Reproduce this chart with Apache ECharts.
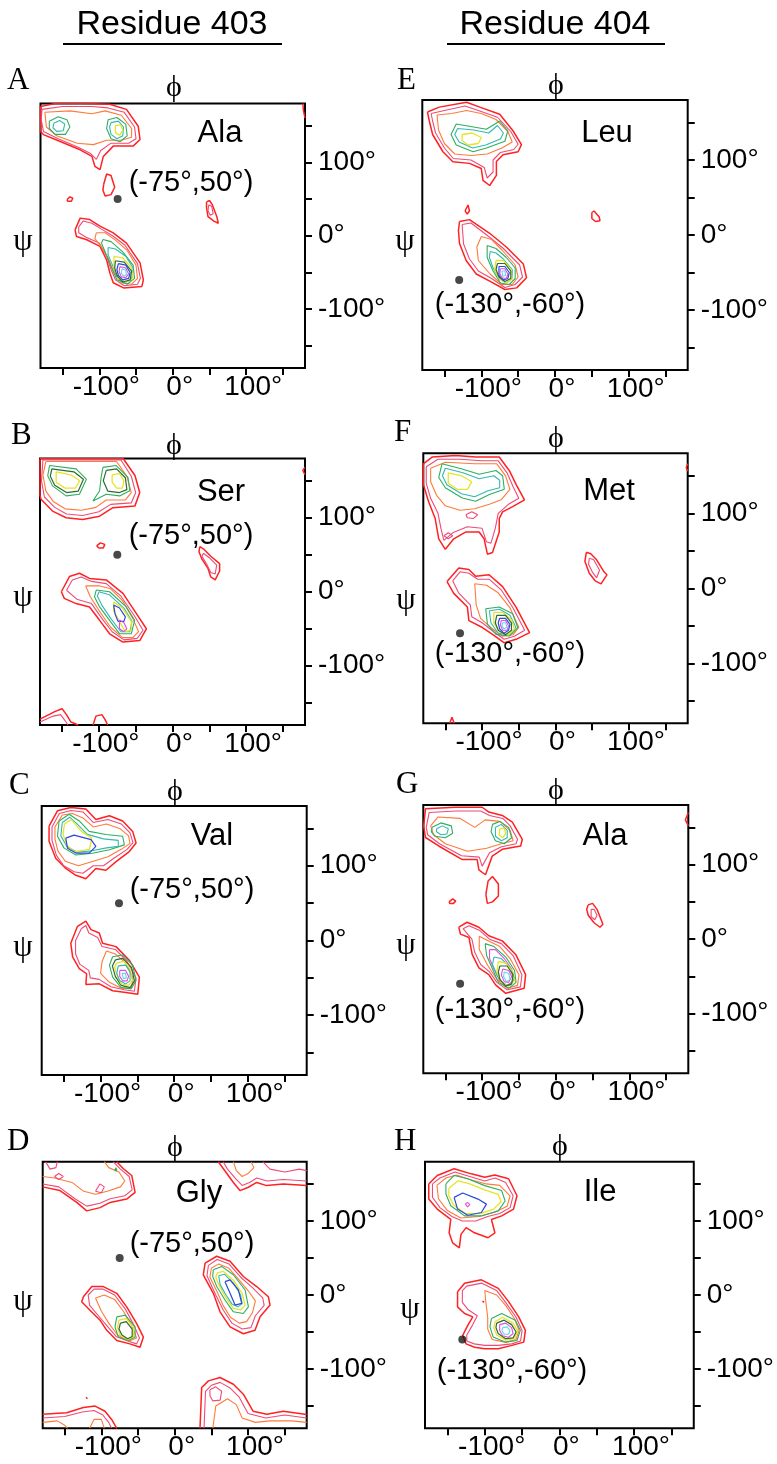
<!DOCTYPE html>
<html><head><meta charset="utf-8">
<script src="https://cdn.jsdelivr.net/npm/echarts@6/dist/echarts.min.js"></script>
<style>html,body{margin:0;padding:0;background:#fff}#c{width:777px;height:1464px}</style>
</head><body><div id="c"></div>
<script>
// ---------- DATA ----------
const columnTitles = ['Residue 403', 'Residue 404'];
const panelLetters = ['A','B','C','D','E','F','G','H'];
const residueNames = ['Ala','Ser','Val','Gly','Leu','Met','Ala','Ile'];
const tickValues = [-150,-100,-50,0,50,100,150];
const labelValues = [-100,0,100];
const refPointLeft = [-75, 50];
const refPointRight = [-130, -60];
const refLabelLeft = '(-75°,50°)';
const refLabelRight = '(-130°,-60°)';

// contour loops: [level, [[phi,psi],...], open?]
const contoursA = [
 [0,[[-180,176],[-160,180],[-120,180],[-86,179],[-63,172],[-47,149],[-44.5,131],[-54,122],[-81,122],[-94.5,108],[-99,90],[-106,94.5],[-110,108],[-126,117],[-154,128.6],[-176,137.7],[-180,142]]],
 [1,[[-178,172],[-150,176],[-110,176],[-88,174],[-66,168],[-52,148],[-50,132],[-60,126],[-84,126],[-98,116],[-104,104],[-112,112],[-128,120],[-156,132],[-176,142],[-179,158]]],
 [2,[[-174,168],[-140,170],[-110,166],[-92,170],[-70,164],[-56,146],[-56,134],[-70,130],[-90,130],[-108,124],[-130,126],[-158,136],[-172,148]]],
 [3,[[-168,156],[-156,162],[-144,158],[-140,148],[-146,138],[-160,138],[-168,146]]],
 [4,[[-162,153],[-154,157],[-147,152],[-149,143],[-158,142],[-163,147]]],
 [3,[[-88,158],[-76,161],[-64,152],[-62,136],[-72,128],[-84,132],[-90,146]]],
 [4,[[-84,154],[-74,156],[-67,148],[-68,136],[-76,132],[-84,138],[-86,148]]],
 [5,[[-78,150],[-71,151],[-68,144],[-72,137],[-78,140]]],
 [0,[[-94,70],[-90,84],[-84,82],[-79,66],[-84,56],[-92,54],[-95,62]]],
 [0,[[-144,49],[-140,53],[-136,51],[-138,47],[-143,47]]],
 [0,[[46,46],[50,48],[54,42],[60,26],[62,17],[56,20],[48,26],[46,38]]],
 [1,[[49,42],[53,40],[55,30],[51,28],[48,34]]],
 [0,[[177,180],[178,170],[180,160]],1],
 [0,[[-133,8],[-126,24],[-113,22],[-99,13],[-81,4],[-63,-10],[-44.5,-37],[-40,-60],[-42,-69],[-67,-71],[-81,-64],[-85.5,-51],[-90,-33],[-99,-14.5],[-117,-5.5],[-131,-1]]],
 [1,[[-128,12],[-122,20],[-110,17],[-97,9],[-82,0],[-65,-13],[-48,-38],[-44,-58],[-48,-66],[-66,-68],[-78,-60],[-84,-46],[-90,-28],[-100,-10],[-118,-2],[-128,4]]],
 [2,[[-104,4],[-92,4],[-78,-6],[-62,-20],[-50,-40],[-48,-58],[-56,-66],[-70,-64],[-80,-50],[-88,-30],[-98,-14],[-106,-4]]],
 [3,[[-95,-5],[-84,-8],[-68,-22],[-54,-40],[-52,-58],[-62,-66],[-76,-60],[-84,-42],[-92,-22],[-97,-10]]],
 [4,[[-88,-16],[-78,-18],[-64,-28],[-54,-44],[-56,-60],[-66,-64],[-76,-56],[-82,-40],[-88,-26]]],
 [5,[[-80,-28],[-68,-30],[-56,-44],[-54,-58],[-64,-63],[-74,-58],[-80,-44]]],
 [6,[[-78,-34],[-66,-36],[-56,-48],[-58,-60],[-68,-63],[-76,-54],[-79,-44]]],
 [7,[[-74,-38],[-64,-40],[-58,-50],[-60,-58],[-68,-60],[-74,-54],[-76,-46]]],
 [8,[[-72,-42],[-64,-44],[-60,-52],[-64,-57],[-70,-56],[-73,-49]]],
 [9,[[-69,-45],[-64,-47],[-63,-53],[-67,-55],[-70,-51]]]
];
const contoursB = [
 [0,[[-180,180],[-67,180],[-51,157],[-44.5,134],[-51,116],[-81,113.6],[-99,102],[-122,97.7],[-144.5,100],[-163,109],[-178.6,125],[-180,130]]],
 [1,[[-176,178],[-70,178],[-56,156],[-50,134],[-56,120],[-84,118],[-100,108],[-122,103],[-144,105],[-160,114],[-174,128],[-178,150]]],
 [2,[[-172,176],[-120,176],[-76,176],[-62,156],[-56,134],[-64,124],[-90,124],[-104,114],[-124,110],[-146,112],[-162,122],[-172,136],[-176,158]]],
 [3,[[-167,170.5],[-131,166],[-117,152],[-126.4,131.8],[-144.5,129.5],[-163,143],[-169.5,156.8]]],
 [6,[[-164,166],[-134,162],[-121,152],[-128,136],[-144,134],[-160,144],[-166,156]]],
 [5,[[-158,162],[-138,158],[-126,150],[-132,140],[-146,140],[-158,148]]],
 [3,[[-94.5,168],[-76.4,170.5],[-60.5,154.5],[-58,136.4],[-71.8,129.5],[-90,131.8],[-108,122.7],[-99,136.4],[-97,154.5]]],
 [6,[[-90,164],[-76,166],[-64,154],[-62,138],[-72,134],[-88,136],[-94,150]]],
 [5,[[-82,158],[-72,160],[-66,150],[-68,140],[-76,140],[-82,148]]],
 [0,[[-151,0],[-140,20.5],[-126.4,25],[-112.7,18],[-90,16],[-67.3,-2.3],[-49,-29.5],[-35.5,-50],[-44.5,-66],[-67.3,-68],[-85.5,-56.8],[-99,-38.6],[-112.7,-20.5],[-131,-16],[-147,-9]]],
 [1,[[-144,2],[-136,16],[-124,20],[-110,14],[-90,11],[-70,-6],[-52,-32],[-40,-52],[-48,-63],[-66,-65],[-82,-54],[-96,-36],[-110,-16],[-130,-10]]],
 [2,[[-118,8],[-100,8],[-84,4],[-68,-12],[-54,-36],[-46,-54],[-54,-62],[-68,-62],[-84,-48],[-98,-28],[-112,-6]]],
 [3,[[-103.6,2.3],[-85.5,0],[-62.7,-20.5],[-51.4,-38.6],[-56,-56.8],[-71.8,-56.8],[-85.5,-38.6],[-99,-20.5],[-106,-6.8]]],
 [4,[[-100,0],[-86,-4],[-66,-22],[-55,-40],[-58,-54],[-70,-54],[-84,-36],[-96,-18],[-102,-6]]],
 [5,[[-80,-14],[-68,-22],[-56,-40],[-56,-52],[-64,-54],[-72,-40],[-80,-26]]],
 [7,[[-80,-18],[-72,-22],[-64,-34],[-66,-40],[-74,-40],[-78,-30]]],
 [8,[[-72,-38],[-66,-42],[-62,-50],[-66,-54],[-72,-50]]],
 [0,[[-103,62],[-98,66],[-92,64],[-94,59],[-100,59]]],
 [0,[[37,61],[42,58],[52,48],[64,38],[64,28],[58,16],[52,20],[48,32],[40,44],[36,54]]],
 [1,[[42,52],[50,46],[60,36],[58,24],[52,26],[46,38],[40,48]]],
 [0,[[-180,-172],[-160,-162],[-150,-158],[-144,-166],[-138,-176],[-128,-180]],1],
 [1,[[-180,-176],[-162,-168],[-152,-166],[-146,-174],[-142,-180]],1],
 [0,[[-108,-180],[-104,-168],[-96,-166],[-92,-172],[-88,-180]],1],
 [0,[[180,168],[177,164],[180,158]],1]
];
const contoursC = [
 [0,[[-170,153],[-158.6,173.6],[-140.5,178],[-120,176],[-106.4,162],[-88,167],[-70,160],[-56.4,146],[-51.8,130.5],[-61,119],[-79,105.5],[-92.7,94],[-106.4,96.4],[-120,82.7],[-133.6,87.3],[-147.3,96.4],[-161,110],[-170,132.7]]],
 [1,[[-166,152],[-156,170],[-140,174],[-124,172],[-110,158],[-90,162],[-72,156],[-60,144],[-56,131],[-64,122],[-82,110],[-96,100],[-110,100],[-124,90],[-136,92],[-150,100],[-160,114],[-166,134]]],
 [2,[[-162,152],[-152,168],[-138,170],[-124,164],[-110,152],[-92,156],[-74,150],[-62,140],[-60,130],[-72,122],[-90,112],[-110,106],[-130,100],[-148,106],[-158,120],[-162,136]]],
 [3,[[-156.4,160],[-142.7,169],[-129,160],[-115.5,146],[-92.7,141.8],[-70,139.5],[-67.7,128],[-88,121.4],[-111,116.8],[-133.6,114.5],[-149.5,123.6],[-158.6,139.5]]],
 [4,[[-152,158],[-142,165],[-132,156],[-118,142],[-96,136],[-76,134],[-76,126],[-92,124],[-112,120],[-132,118],[-146,126],[-154,140]]],
 [5,[[-149,156],[-140,162],[-126,146],[-112,137],[-115,122],[-136,119],[-146,128],[-151,142]]],
 [7,[[-147.3,137],[-136,141],[-113,135],[-106.4,126],[-115.5,117],[-133.6,117],[-145,123.6]]],
 [0,[[-131.4,19],[-120,26],[-113,14.5],[-101.8,10],[-97.3,-3.6],[-79,-8.2],[-61,-26.4],[-47.3,-49],[-49.5,-71.8],[-65.5,-69.5],[-83.6,-67.3],[-101.8,-58],[-120,-59],[-119,-44.5],[-129,-37.7],[-138,-21.8],[-140.5,-3.6]]],
 [1,[[-126,16],[-120,20],[-116,10],[-104,4],[-98,-8],[-80,-12],[-64,-28],[-52,-50],[-54,-68],[-68,-66],[-86,-62],[-102,-52],[-114,-50],[-116,-40],[-128,-32],[-134,-18],[-134,0]]],
 [2,[[-92,-14],[-80,-18],[-66,-30],[-56,-50],[-58,-64],[-72,-64],[-88,-56],[-100,-44],[-98,-28]]],
 [3,[[-83.6,-21.8],[-70,-19.5],[-56.4,-33],[-51.8,-53.6],[-58.6,-65],[-72.3,-62.7],[-83.6,-49],[-88,-33]]],
 [6,[[-80,-26],[-70,-24],[-58,-36],[-54,-54],[-60,-63],[-72,-60],[-80,-48],[-84,-34]]],
 [5,[[-78,-30],[-68,-28],[-60,-38],[-57,-54],[-62,-60],[-72,-58],[-78,-46],[-81,-36]]],
 [4,[[-76,-34],[-66,-33],[-60,-42],[-60,-54],[-66,-58],[-74,-54],[-78,-44]]],
 [8,[[-74,-40],[-66,-40],[-62,-48],[-64,-54],[-70,-54],[-74,-48]]],
 [9,[[-71,-44],[-66,-44],[-65,-50],[-69,-51]]]
];
const contoursD = [
 [0,[[-180,146],[-156.4,141],[-133.6,125],[-120,113.6],[-101.8,118],[-88,125],[-65.5,129.5],[-54,138.6],[-58.6,161.4],[-70,170.5],[-79,180]],1],
 [1,[[-180,150],[-158,146],[-136,130],[-120,120],[-102,124],[-88,130],[-68,134],[-58,142],[-62,160],[-74,170],[-84,180]],1],
 [2,[[-180,160],[-164,158],[-140,152],[-124,140],[-108,136],[-92,140],[-74,146],[-68,154],[-76,166],[-90,172],[-96,180]],1],
 [1,[[-164,160],[-158,164],[-152,160],[-158,156]]],
 [1,[[-108,140],[-102,150],[-96,146],[-100,138]]],
 [1,[[-176,180],[-170,170],[-162,172],[-160,180]],1],
 [3,[[-82,168],[-80,172],[-79,168]]],
 [0,[[59.5,180],[66.4,170.5],[80,152],[89,141],[100.5,145.5],[111.8,152],[125.5,147.7],[148,150],[180,147.7]],1],
 [1,[[66,180],[72,170],[84,156],[92,148],[102,152],[112,158],[126,154],[148,156],[180,154]],1],
 [2,[[80,180],[84,168],[92,160],[100,164],[108,172],[104,180]],1],
 [1,[[120,180],[130,170],[150,166],[170,170],[180,168]],1],
 [0,[[-124.5,-2.3],[-113,11.4],[-97.3,11.4],[-79,2.3],[-65.5,-16],[-51.8,-38.6],[-42.7,-56.8],[-47.3,-70.5],[-61,-66],[-79,-61.4],[-92.7,-47.7],[-101.8,-34],[-115.5,-20.5],[-126.8,-9]]],
 [1,[[-118,0],[-110,8],[-98,8],[-82,0],[-68,-18],[-56,-40],[-48,-58],[-52,-66],[-64,-62],[-80,-56],[-92,-42],[-104,-28],[-116,-14]]],
 [2,[[-108,-4],[-96,0],[-82,-6],[-70,-22],[-58,-42],[-52,-58],[-62,-62],[-78,-54],[-90,-38],[-100,-22]]],
 [3,[[-79,-29.5],[-67.7,-27.3],[-54,-43],[-54,-56.8],[-63.2,-61.4],[-76.8,-56.8],[-81.4,-43]]],
 [5,[[-76,-34],[-66,-32],[-56,-44],[-56,-56],[-64,-60],[-74,-55],[-78,-44]]],
 [6,[[-74,-38],[-66,-36],[-58,-46],[-58,-56],[-64,-59],[-72,-54],[-76,-46]]],
 [0,[[41.4,43],[57.3,52.3],[75.5,45.5],[93.6,25],[111.8,11.4],[127.7,-2.3],[130,-13.6],[116.4,-29.5],[109.5,-47.7],[93.6,-52.3],[75.5,-43],[61.8,-22.7],[52.7,2.3],[39,27.3]]],
 [1,[[46,40],[58,48],[74,42],[90,24],[106,10],[120,-4],[122,-14],[110,-28],[104,-44],[92,-46],[78,-38],[66,-20],[56,0],[44,26]]],
 [2,[[50,36],[60,42],[74,36],[88,20],[100,6],[110,-8],[106,-24],[98,-36],[88,-38],[76,-30],[66,-14],[58,4],[48,24]]],
 [3,[[52.7,34],[64,38.6],[80,27.3],[96,6.8],[100.5,-16],[93.6,-25],[80,-22.7],[68.6,-6.8],[57.3,11.4],[51.8,25]]],
 [5,[[58,30],[66,32],[80,20],[92,2],[96,-14],[90,-20],[80,-18],[70,-4],[60,14],[56,24]]],
 [4,[[60,26],[68,28],[80,16],[90,0],[92,-12],[86,-16],[78,-12],[70,0],[62,14]]],
 [7,[[68.6,18],[75.5,20.5],[86.8,6.8],[91.4,-11.4],[82.3,-13.6],[75.5,2.3]]],
 [0,[[-180,-161],[-147.3,-159],[-124.5,-152],[-108.6,-150],[-95,-157],[-86,-168],[-79,-180]],1],
 [1,[[-180,-166],[-150,-164],[-126,-158],[-110,-156],[-98,-162],[-90,-172],[-86,-180]],1],
 [2,[[-180,-172],[-160,-170],[-150,-176],[-146,-180]],1],
 [2,[[-116,-180],[-110,-168],[-100,-168],[-96,-180]],1],
 [0,[[-121,-138],[-119,-137],[-119,-140],[-121,-140]]],
 [0,[[34.5,-180],[36.8,-125],[46,-116],[61.8,-111.4],[80,-120.5],[93.6,-134],[107,-157],[125.5,-161],[148,-157],[180,-161.4]],1],
 [1,[[40,-180],[42,-130],[50,-122],[62,-118],[76,-126],[88,-138],[100,-160],[124,-166],[150,-162],[180,-166]],1],
 [2,[[52,-180],[56,-150],[72,-140],[84,-148],[92,-166],[110,-172],[130,-170],[160,-170],[180,-172]],1],
 [1,[[48,-128],[56,-124],[64,-130],[62,-142],[52,-143],[48,-136]]]
];
const contoursE = [
 [0,[[-173,164],[-157,170.5],[-120,177],[-102,170.5],[-75,161],[-57,139],[-45.5,120.5],[-50,111],[-70.5,107],[-79.5,98],[-79.5,79.5],[-88.6,66],[-97.7,72.7],[-100,88.6],[-116,95.5],[-138.6,97.7],[-152,111],[-166,134],[-170.5,152]]],
 [1,[[-168,162],[-150,166],[-122,172],[-104,166],[-78,157],[-60,138],[-50,121],[-56,114],[-74,110],[-84,100],[-84,84],[-92,76],[-96,90],[-114,100],[-138,102],[-150,116],[-162,136],[-166,152]]],
 [2,[[-160,160],[-140,162],[-120,166],[-100,162],[-80,154],[-64,138],[-58,124],[-72,116],[-92,108],[-114,106],[-136,108],[-150,122],[-158,140]]],
 [3,[[-134,148],[-93,141],[-75,152],[-64,139],[-68,125],[-93,116],[-111,111],[-134,120],[-141,134]]],
 [4,[[-132,142],[-110,140],[-90,136],[-78,146],[-70,136],[-74,128],[-94,120],[-112,116],[-130,124],[-136,134]]],
 [5,[[-126,134],[-112,136],[-100,130],[-104,122],[-118,120],[-126,126]]],
 [0,[[-129.5,18],[-116,20.5],[-88.6,2.3],[-66,-16],[-43,-38.6],[-38.6,-57],[-52,-70.5],[-68,-72.7],[-88.6,-61.4],[-106.8,-52],[-120.5,-34],[-129.5,-11.4],[-131,6]]],
 [0,[[-122,32],[-118,40],[-116,32],[-119,28]]],
 [1,[[-126,14],[-114,16],[-90,-2],[-70,-18],[-48,-40],[-44,-56],[-54,-66],[-68,-70],[-86,-58],[-104,-48],[-116,-32],[-124,-12]]],
 [2,[[-100,-2],[-86,-6],[-72,-20],[-54,-40],[-50,-56],[-58,-66],[-72,-66],[-88,-52],[-104,-34],[-106,-16]]],
 [3,[[-92,-14],[-80,-18],[-66,-30],[-54,-44],[-54,-58],[-62,-66],[-74,-64],[-84,-48],[-92,-30]]],
 [4,[[-88,-22],[-80,-24],[-70,-32],[-58,-46],[-58,-58],[-66,-64],[-76,-58],[-84,-44],[-89,-30]]],
 [5,[[-80,-34],[-70,-34],[-60,-46],[-58,-58],[-66,-64],[-76,-58],[-82,-46]]],
 [6,[[-78,-38],[-68,-38],[-60,-48],[-60,-58],[-68,-62],[-76,-56],[-80,-46]]],
 [7,[[-76,-42],[-68,-42],[-62,-50],[-64,-58],[-70,-60],[-76,-54]]],
 [8,[[-74,-45],[-68,-45],[-64,-52],[-66,-58],[-72,-57],[-75,-51]]],
 [9,[[-72,-48],[-68,-48],[-67,-54],[-71,-55]]],
 [0,[[50,30],[53,32],[60,24],[61,19],[55,18],[50,22]]]
];
const contoursF = [
 [0,[[-180,166],[-168,175],[-136,177],[-108.7,175],[-76.6,175],[-62.8,156.8],[-53.7,138.6],[-42.2,118],[-58.3,109],[-72,102],[-76.6,93],[-76.6,75],[-85.8,47.7],[-92.7,45.5],[-97.2,66],[-104,75],[-122.5,75],[-138.5,66],[-150,52],[-159,66],[-163.8,93],[-173,116],[-180,138.6]]],
 [1,[[-176,162],[-160,172],[-130,172],[-100,170],[-78,170],[-66,154],[-58,136],[-50,120],[-64,112],[-78,100],[-82,80],[-88,60],[-94,62],[-100,80],[-120,82],[-140,74],[-152,64],[-156,80],[-160,100],[-170,120],[-176,140]]],
 [2,[[-170,160],[-150,168],[-110,166],[-80,166],[-68,150],[-62,132],[-74,118],[-90,112],[-110,106],[-130,104],[-150,110],[-162,124],[-170,142]]],
 [1,[[-122,98],[-114,102],[-106,98],[-112,93],[-120,94]]],
 [1,[[-152,70],[-146,74],[-140,70],[-146,66]]],
 [3,[[-154.6,166],[-127,159],[-104,152],[-81,157],[-72,150],[-69.7,132],[-90,125],[-108.7,116],[-127,120.5],[-150,134],[-159,147.7]]],
 [4,[[-150,160],[-126,154],[-104,146],[-84,150],[-76,144],[-76,134],[-92,130],[-110,122],[-128,126],[-148,138],[-154,150]]],
 [5,[[-146,154],[-128,150],[-114,142],[-120,132],[-134,132],[-146,140]]],
 [0,[[-147.7,9],[-131.7,27],[-117.9,25],[-108.7,16],[-90.4,18],[-72,2.3],[-53.7,-25],[-35.3,-59],[-53.7,-68],[-69.7,-72.7],[-85.8,-61.4],[-99.5,-52.3],[-117.9,-43],[-120,-25],[-138.5,-6.8]]],
 [1,[[-140,10],[-130,22],[-118,20],[-106,12],[-90,12],[-74,-2],[-58,-26],[-42,-56],[-56,-64],[-70,-68],[-84,-58],[-100,-46],[-114,-38],[-116,-22],[-132,-6]]],
 [2,[[-110,6],[-94,4],[-78,-6],[-62,-26],[-50,-52],[-58,-62],[-72,-64],[-86,-54],[-102,-40],[-108,-22]]],
 [3,[[-95,-27.3],[-76.6,-25],[-58.3,-34],[-51.4,-52.3],[-62.8,-63.6],[-81,-61.4],[-92.7,-47.7]]],
 [4,[[-90,-30],[-76,-28],[-62,-36],[-54,-52],[-64,-62],[-78,-60],[-88,-46]]],
 [5,[[-84,-32],[-72,-32],[-60,-42],[-56,-54],[-64,-62],[-76,-58],[-84,-46]]],
 [6,[[-80,-36],[-68,-36],[-60,-46],[-60,-56],[-68,-62],[-78,-56],[-82,-46]]],
 [7,[[-76,-40],[-68,-40],[-62,-48],[-64,-56],[-70,-60],[-76,-54],[-78,-46]]],
 [8,[[-74,-43],[-68,-43],[-64,-50],[-66,-56],[-72,-56],[-75,-49]]],
 [9,[[-72,-46],[-68,-46],[-66,-52],[-70,-54],[-73,-50]]],
 [0,[[42,48],[48,46],[56,38],[66,22],[70,18],[62,6],[54,10],[46,20],[40,36]]],
 [1,[[46,40],[52,38],[60,24],[56,14],[50,22],[45,32]]],
 [0,[[-144,-180],[-141,-172],[-138,-180]],1],
 [0,[[180,166],[178,161],[180,156]],1]
];
const contoursG = [
 [0,[[-179.5,152],[-177,175],[-136.4,177],[-100,177],[-91,170.5],[-72.7,166],[-59,157],[-45.5,134],[-47.7,125],[-72.7,120.5],[-86.4,111.4],[-95.5,86.4],[-104.5,93],[-106.8,106.8],[-127,106.8],[-159,125],[-177,136.4]]],
 [1,[[-176,150],[-172,170],[-136,172],[-102,172],[-90,166],[-72,162],[-62,152],[-52,134],[-54,128],[-74,124],[-90,116],[-100,98],[-104,110],[-128,112],[-158,128],[-174,140]]],
 [2,[[-170,152],[-160,164],[-130,162],[-110,150],[-96,160],[-76,158],[-62,146],[-58,132],[-74,128],[-94,122],[-120,118],[-150,128],[-166,140]]],
 [3,[[-168,150],[-156,156],[-142,152],[-140,142],[-150,136],[-164,138],[-169,144]]],
 [4,[[-162,148],[-154,152],[-146,148],[-148,141],[-156,140],[-162,144]]],
 [3,[[-86,154],[-76,158],[-64,150],[-60,136],[-70,128],[-82,132],[-88,144]]],
 [4,[[-82,150],[-74,154],[-66,146],[-66,136],[-74,132],[-82,138]]],
 [5,[[-76,148],[-70,149],[-68,142],[-72,136],[-77,140]]],
 [0,[[-95,60],[-92,78],[-86,84],[-78,74],[-78,58],[-86,50],[-93,48]]],
 [0,[[-145,50],[-140,54],[-136,51],[-139,48],[-144,48]]],
 [0,[[44,46],[50,48],[56,40],[64,20],[60,16],[52,22],[44,32],[42,40]]],
 [1,[[48,40],[52,40],[56,32],[53,26],[48,30]]],
 [0,[[180,170],[176,160],[180,152]],1],
 [0,[[-131.8,16],[-120.5,22.7],[-104.5,16],[-91,4.5],[-72.7,-2.3],[-54.5,-20.5],[-41,-47.7],[-43,-66],[-68,-72.7],[-81.8,-61.4],[-91,-47.7],[-104.5,-38.6],[-113.6,-20.5],[-118,2.3],[-129.5,6.8]]],
 [1,[[-126,14],[-118,18],[-104,12],[-90,0],[-74,-6],[-58,-22],[-46,-48],[-48,-64],[-66,-68],[-80,-58],[-90,-44],[-102,-34],[-110,-18],[-114,0]]],
 [2,[[-104,4],[-92,-2],[-76,-10],[-62,-26],[-50,-48],[-52,-62],[-66,-66],[-80,-54],[-92,-36],[-104,-14]]],
 [3,[[-96,-6],[-84,-10],[-68,-24],[-56,-42],[-54,-58],[-64,-66],[-78,-58],[-86,-40],[-94,-22]]],
 [8,[[-90,-14],[-82,-14],[-70,-26],[-60,-40],[-58,-56],[-66,-62],[-76,-56],[-84,-40],[-90,-26]]],
 [4,[[-84,-24],[-74,-26],[-62,-38],[-56,-52],[-62,-62],[-72,-60],[-80,-48],[-86,-34]]],
 [5,[[-78,-30],[-68,-32],[-58,-44],[-56,-56],[-64,-63],[-74,-58],[-80,-44]]],
 [6,[[-76,-36],[-66,-36],[-58,-48],[-60,-60],[-68,-63],[-76,-54],[-78,-44]]],
 [8,[[-72,-40],[-64,-42],[-60,-50],[-64,-58],[-70,-57],[-74,-48]]],
 [9,[[-70,-44],[-64,-46],[-62,-54],[-67,-57],[-71,-50]]]
];
const contoursH = [
 [0,[[-175,150],[-163.6,161.4],[-141,170.5],[-118,163.6],[-100,159],[-86.4,162],[-68,157],[-56.8,134],[-61.4,116],[-77.3,106.8],[-91,102],[-86.4,84],[-95.5,77.3],[-113.6,84],[-125,91],[-131.8,81.8],[-134,63.6],[-143,70.5],[-147.7,84],[-145.5,102],[-163.6,116],[-175,129.5]]],
 [1,[[-170,150],[-160,158],[-140,166],[-120,160],[-100,154],[-86,158],[-72,152],[-62,134],[-66,118],[-80,110],[-96,106],[-112,100],[-130,100],[-144,106],[-160,118],[-170,132]]],
 [2,[[-164,148],[-152,158],[-138,162],[-120,156],[-98,150],[-80,148],[-66,134],[-70,120],[-86,112],[-108,106],[-132,104],[-150,114],[-162,130]]],
 [3,[[-152,150],[-141,161.4],[-122.7,157],[-100,147.7],[-77.3,141],[-72.7,127],[-81.8,113.6],[-104.5,106.8],[-127,106.8],[-145.5,120.5],[-152,136.4]]],
 [5,[[-148,144],[-136,154],[-120,150],[-100,142],[-82,136],[-78,126],[-88,116],[-106,110],[-126,110],[-142,122],[-148,134]]],
 [7,[[-141,131.8],[-129.5,137.7],[-109,129.5],[-97.7,122.7],[-104.5,111.4],[-122.7,107.7],[-136.4,116]]],
 [8,[[-126,123],[-123,125],[-120,122],[-123,119]]],
 [0,[[-136.4,4.5],[-127,16],[-104.5,20.5],[-81.8,9],[-68,-9],[-54.5,-29.5],[-45.5,-47.7],[-47.7,-63.6],[-63.6,-68],[-81.8,-72.7],[-100,-72.7],[-113.6,-70.5],[-125,-66],[-129.5,-54.5],[-122.7,-41],[-116,-29.5],[-127,-25],[-136.4,-16]]],
 [1,[[-130,6],[-124,12],[-104,16],[-84,6],[-72,-10],[-58,-30],[-50,-48],[-52,-62],[-64,-66],[-82,-68],[-100,-68],[-114,-66],[-124,-62],[-124,-54],[-116,-40],[-110,-28],[-122,-20],[-130,-10]]],
 [2,[[-100,6],[-84,0],[-72,-14],[-60,-32],[-54,-48],[-58,-60],[-72,-64],[-90,-60],[-96,-46],[-96,-30],[-98,-14]]],
 [3,[[-91,-31.8],[-77.3,-25],[-59,-34],[-52.3,-47.7],[-56.8,-61.4],[-72.7,-63.6],[-88.6,-56.8],[-93,-43]]],
 [5,[[-86,-36],[-76,-30],[-62,-38],[-56,-48],[-60,-59],[-72,-61],[-84,-54],[-88,-44]]],
 [6,[[-84,-38],[-74,-34],[-64,-40],[-58,-50],[-62,-58],[-72,-59],[-82,-52],[-85,-44]]],
 [8,[[-80,-40],[-72,-38],[-64,-44],[-62,-52],[-68,-57],[-76,-55],[-80,-48]]],
 [9,[[-76,-44],[-70,-43],[-66,-48],[-68,-53],[-74,-53],[-77,-48]]],
 [0,[[-103,-8],[-101,-8],[-101,-10],[-103,-10]]]
];

// ---------- STYLE / LAYOUT ----------
const LEVEL_COLORS = ['#ff2222','#ef4a78','#ff7a3a','#2fae5e','#33b8b2','#e6e42a','#2e6a30','#2a48da','#de4fe0','#5fd8ea'];
const LEVEL_WIDTHS = [1.5,1.1,1.1,1.1,1.1,1.3,1.2,1.2,1.1,1.1];
const SANS = '"Liberation Sans", Arial, Helvetica, sans-serif';
const SERIF = '"Liberation Serif", "Times New Roman", serif';

const panels = [
 {c:contoursA, g:{left:40.5,top:103.5,width:264.5,height:264.5}, ref:0, letter:[7,81], phi:[174,88], psi:[23,242], name:[220,133], lab:[191,183]},
 {c:contoursB, g:{left:40,top:458.5,width:265,height:266.5}, ref:0, letter:[11,436], phi:[174,446], psi:[23,598], name:[221,492], lab:[191,536]},
 {c:contoursC, g:{left:41.7,top:806,width:265,height:269}, ref:0, letter:[9,786], phi:[175,792], psi:[23,948], name:[212,836], lab:[192,890]},
 {c:contoursD, g:{left:42.7,top:1161.7,width:264,height:266.6}, ref:0, letter:[7,1142], phi:[175,1148], psi:[23,1302], name:[199,1193], lab:[192,1244]},
 {c:contoursE, g:{left:422.3,top:100,width:265.4,height:270}, ref:1, letter:[397,81], phi:[556,86], psi:[405,242], name:[607,133], lab:[510,305]},
 {c:contoursF, g:{left:423.3,top:453.3,width:264.4,height:270}, ref:1, letter:[394,433], phi:[556,439], psi:[406,601], name:[609,491], lab:[510,654]},
 {c:contoursG, g:{left:423.3,top:805,width:265,height:268.3}, ref:1, letter:[396,785], phi:[556,791], psi:[406,946], name:[605,836], lab:[510,1010]},
 {c:contoursH, g:{left:425,top:1161.7,width:270,height:266.6}, ref:1, letter:[394,1142], phi:[560,1147], psi:[410,1310], name:[600,1192], lab:[512,1371]}
];

const grids = [], xAxes = [], yAxes = [], series = [], graphics = [];
const fmt = v => v + '°';
panels.forEach((p, i) => {
  grids.push(Object.assign({show:true, borderColor:'#000', borderWidth:2, backgroundColor:'#fff', containLabel:false}, p.g));
  xAxes.push({gridIndex:i, type:'value', min:-180, max:180, position:'bottom',
    axisLine:{show:false, onZero:false}, splitLine:{show:false},
    axisTick:{show:true, inside:false, length:7, lineStyle:{color:'#000', width:2}, customValues:tickValues},
    axisLabel:{show:true, customValues:labelValues, formatter:fmt, color:'#000', fontSize:28, fontFamily:SANS, margin:5, padding:[0,0,0,14]}});
  yAxes.push({gridIndex:i, type:'value', min:-180, max:180, position:'right',
    axisLine:{show:false, onZero:false}, splitLine:{show:false},
    axisTick:{show:true, inside:false, length:7, lineStyle:{color:'#000', width:2}, customValues:tickValues},
    axisLabel:{show:true, customValues:labelValues, formatter:fmt, color:'#000', fontSize:28, fontFamily:SANS, margin:13}});
  p.c.forEach(([lv, pts, open]) => {
    series.push({type:'line', xAxisIndex:i, yAxisIndex:i, data: open ? pts : pts.concat([pts[0]]),
      showSymbol:false, symbol:'none', silent:true, animation:false, clip:true, z:2,
      lineStyle:{color:LEVEL_COLORS[lv], width:LEVEL_WIDTHS[lv]}});
  });
  series.push({type:'scatter', xAxisIndex:i, yAxisIndex:i, data:[p.ref ? refPointRight : refPointLeft],
    symbolSize:8, itemStyle:{color:'#1a1a1a'}, silent:true, animation:false, z:5});
  const txt = (x, y, s, size, fam, align) => graphics.push({type:'text', x, y, z:10, silent:true,
    style:{text:s, fontSize:size, fontFamily:fam, fill:'#000', align:align||'center', verticalAlign:'middle'}});
  txt(p.letter[0], p.letter[1], panelLetters[i], 31, SERIF, 'left');
  txt(p.phi[0], p.phi[1], '\u03D5', 30, SERIF);
  txt(p.psi[0], p.psi[1], '\u03C8', 31, SERIF);
  txt(p.name[0], p.name[1], residueNames[i], 31, SANS);
  txt(p.lab[0], p.lab[1], p.ref ? refLabelRight : refLabelLeft, 29, SANS);
});
[[172,25,63,282],[555,25,447,665]].forEach(([cx, cy, x1, x2], k) => {
  graphics.push({type:'text', x:cx, y:cy, z:10, silent:true,
    style:{text:columnTitles[k], fontSize:34, fontFamily:SANS, fill:'#000', align:'center', verticalAlign:'middle'}});
  graphics.push({type:'line', z:10, silent:true, shape:{x1, y1:44, x2, y2:44}, style:{stroke:'#000', lineWidth:2}});
});

const chart = echarts.init(document.getElementById('c'), null, {renderer:'canvas'});
chart.setOption({animation:false, backgroundColor:'#fff', grid:grids, xAxis:xAxes, yAxis:yAxes, series, graphic:graphics});
</script></body></html>
